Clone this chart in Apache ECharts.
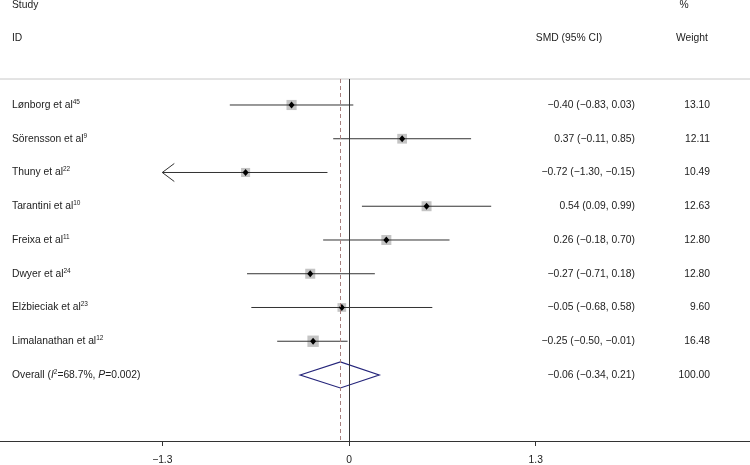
<!DOCTYPE html>
<html>
<head>
<meta charset="utf-8">
<script src="https://cdn.jsdelivr.net/npm/echarts@6/dist/echarts.min.js"></script>
<style>html,body{margin:0;padding:0;background:#fff}#c{width:750px;height:465px}</style>
</head>
<body>
<div id="c"></div>
<script>
const studies = ['Lønborg et al','Sörensson et al','Thuny et al','Tarantini et al','Freixa et al','Dwyer et al','Elżbieciak et al','Limalanathan et al'];
const refs = ['45','9','22','10','11','24','23','12'];
const smd = [-0.40, 0.37, -0.72, 0.54, 0.26, -0.27, -0.05, -0.25];
const lower = [-0.83, -0.11, -1.30, 0.09, -0.18, -0.71, -0.68, -0.50];
const upper = [0.03, 0.85, -0.15, 0.99, 0.70, 0.18, 0.58, -0.01];
const weights = [13.10, 12.11, 10.49, 12.63, 12.80, 12.80, 9.60, 16.48];
const overallSmd = [-0.06];
const overallLower = [-0.34];
const overallUpper = [0.21];
const overallWeight = [100.00];
const xTicks = [-1.3, 0, 1.3];

const FONT = 'Liberation Sans, Arial, sans-serif';
const FS = 10.3;
const TXT = '#222';
const clipMin = -1.3;
const fmt = v => (v < 0 ? '\u2212' : '') + Math.abs(v).toFixed(2);
const rich = {
  n: {fontSize: FS, fontFamily: FONT, fill: TXT, color: TXT},
  s: {fontSize: 6.5, fontFamily: FONT, fill: TXT, color: TXT, padding: [0,0,6,0]},
  i: {fontSize: FS, fontFamily: FONT, fill: TXT, color: TXT, fontStyle: 'italic'}
};
const COL_NAME = 12, COL_SMD = 635, COL_W = 710;

function textEl(x, y, text, align, useRich) {
  return {type: 'text', x: x, y: y, z2: 5, style: {text: text, fontSize: FS, fontFamily: FONT, fill: TXT, align: align, verticalAlign: 'middle', rich: useRich ? rich : undefined}};
}

const studyData = studies.map((s, i) => [i, smd[i], lower[i], upper[i], weights[i]]);
const overallData = [[studies.length, overallSmd[0], overallLower[0], overallUpper[0], overallWeight[0]]];

function renderStudy(params, api) {
  const i = api.value(0), m = api.value(1), lo = api.value(2), hi = api.value(3), w = api.value(4);
  const pm = api.coord([m, i]);
  const plo = api.coord([Math.max(lo, clipMin), i]);
  const phi = api.coord([hi, i]);
  const s = 2.8 * Math.sqrt(w);
  const y = pm[1];
  const children = [
    {type: 'rect', shape: {x: pm[0] - s/2, y: y - s/2, width: s, height: s}, style: {fill: '#c4c4c4'}},
    {type: 'line', shape: {x1: plo[0], y1: y, x2: phi[0], y2: y}, style: {stroke: '#333', lineWidth: 1}},
    {type: 'polygon', shape: {points: [[pm[0]-3, y], [pm[0], y-3.5], [pm[0]+3, y], [pm[0], y+3.5]]}, style: {fill: '#000'}}
  ];
  if (lo <= clipMin) {
    children.push({type: 'polyline', shape: {points: [[plo[0]+12, y-9], [plo[0], y], [plo[0]+12, y+9]]}, style: {stroke: '#333', lineWidth: 1, fill: null}});
  }
  children.push(textEl(COL_NAME, y, '{n|' + studies[i] + '}{s|' + refs[i] + '}', 'left', true));
  children.push(textEl(COL_SMD, y, fmt(m) + ' (' + fmt(lo) + ', ' + fmt(hi) + ')', 'right'));
  children.push(textEl(COL_W, y, w.toFixed(2), 'right'));
  return {type: 'group', children: children};
}

function renderOverall(params, api) {
  const i = api.value(0), m = api.value(1), lo = api.value(2), hi = api.value(3), w = api.value(4);
  const pm = api.coord([m, i]), plo = api.coord([lo, i]), phi = api.coord([hi, i]);
  const y = pm[1], h = 13;
  return {type: 'group', children: [
    {type: 'polygon', shape: {points: [[plo[0], y], [pm[0], y-h], [phi[0], y], [pm[0], y+h]]}, style: {fill: 'rgba(0,0,0,0)', stroke: '#24247a', lineWidth: 1.2}},
    textEl(COL_NAME, y, '{n|Overall (}{i|I}{s|2}{n|=68.7%, }{i|P}{n|=0.002)}', 'left', true),
    textEl(COL_SMD, y, fmt(m) + ' (' + fmt(lo) + ', ' + fmt(hi) + ')', 'right'),
    textEl(COL_W, y, w.toFixed(2), 'right')
  ]};
}

const chart = echarts.init(document.getElementById('c'), null, {renderer: 'canvas'});
chart.setOption({
  animation: false,
  backgroundColor: '#fff',
  grid: {left: 0, right: 0, top: 79, bottom: 24, containLabel: false},
  xAxis: {
    type: 'value', min: -2.430, max: 2.792,
    axisLine: {show: true, onZero: false, lineStyle: {color: '#333', width: 1}},
    axisTick: {show: true, customValues: xTicks, length: 5, lineStyle: {color: '#333'}},
    axisLabel: {show: true, customValues: xTicks, margin: 14, fontSize: FS, fontFamily: FONT, color: TXT,
      formatter: v => (v < 0 ? '\u2212' : '') + Math.abs(v).toString()},
    splitLine: {show: false}
  },
  yAxis: {type: 'value', min: -0.770, max: 9.956, inverse: true, show: false, splitLine: {show: false}},
  graphic: [
    {type: 'line', shape: {x1: 0, y1: 79, x2: 750, y2: 79}, style: {stroke: '#c8c8c8', lineWidth: 1}},
    {type: 'text', x: 12, y: 5, style: {text: 'Study', fontSize: FS, fontFamily: FONT, fill: TXT, verticalAlign: 'middle'}},
    {type: 'text', x: 12, y: 38, style: {text: 'ID', fontSize: FS, fontFamily: FONT, fill: TXT, verticalAlign: 'middle'}},
    {type: 'text', x: 569, y: 38, style: {text: 'SMD (95% CI)', fontSize: FS, fontFamily: FONT, fill: TXT, align: 'center', verticalAlign: 'middle'}},
    {type: 'text', x: 684, y: 5, style: {text: '%', fontSize: FS, fontFamily: FONT, fill: TXT, align: 'center', verticalAlign: 'middle'}},
    {type: 'text', x: 692, y: 38, style: {text: 'Weight', fontSize: FS, fontFamily: FONT, fill: TXT, align: 'center', verticalAlign: 'middle'}}
  ],
  series: [
    {
      type: 'custom', name: 'studies', data: studyData, renderItem: renderStudy,
      encode: {x: [1, 2, 3], y: 0}, clip: false,
      markLine: {silent: true, symbol: 'none', label: {show: false},
        data: [
          {xAxis: 0, lineStyle: {color: '#333', width: 1, type: 'solid'}},
          {xAxis: overallSmd[0], lineStyle: {color: '#a8807f', width: 1, type: [4, 3]}}
        ]}
    },
    {type: 'custom', name: 'overall', data: overallData, renderItem: renderOverall, encode: {x: [1, 2, 3], y: 0}, clip: false}
  ]
});
</script>
</body>
</html>
